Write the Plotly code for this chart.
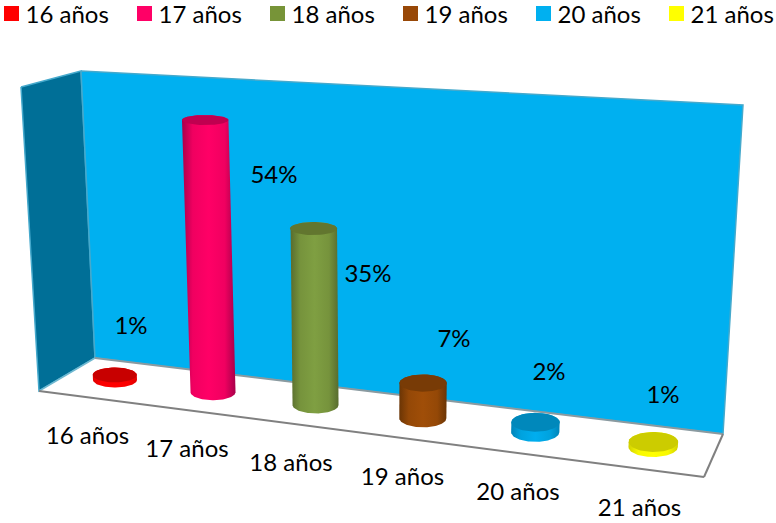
import numpy as np
import plotly.graph_objects as go

# ---- data ----
categories = ["16 años", "17 años", "18 años", "19 años", "20 años", "21 años"]
values = [1, 54, 35, 7, 2, 1]
body_mid = ["#ff0000", "#ff0066", "#7f9f42", "#a04e08", "#00aeef", "#ffff00"]
body_near = ["#fa0000", "#f00060", "#76933c", "#944807", "#00a2de", "#f8f800"]
body_edge = ["#e00000", "#a8004a", "#586c2e", "#6b3505", "#0084b8", "#d0d000"]
cap_col = ["#c80000", "#c00050", "#62762f", "#783b06", "#0088bb", "#cccc00"]
legend_col = ["#ff0000", "#ff0066", "#779438", "#984807", "#00b0f0", "#ffff00"]

# ---- projection of the 3-D frame (layout constants, pixels of the picture) ----
W, H = 776, 523
wall_back = [(81, 71), (743, 105), (723, 434), (95, 358)]
wall_side = [(21, 87), (81, 71), (95, 358), (39, 391)]
floor = [(39, 391), (95, 358), (723, 434), (704, 477)]
PX_PER_PCT = 5.04
FONT = "Lato"
FS = 24
TEXT_DY = 2


def base_x(i):
    return 115 + 95.9 * i / (1 - 0.0218 * i)


def base_y(x):
    return 380 + 67 / 538 * (x - 115)


def ellipse(cx, cy, rx, ry, a0=0.0, a1=2 * np.pi, n=60):
    t = np.linspace(a0, a1, n)
    return cx + rx * np.cos(t), cy + ry * np.sin(t)


fig = go.Figure()


def poly(pts, fillcolor, line_color=None, line_width=0):
    xs = [p[0] for p in pts] + [pts[0][0]]
    ys = [p[1] for p in pts] + [pts[0][1]]
    fig.add_trace(go.Scatter(x=xs, y=ys, mode="lines", fill="toself", fillcolor=fillcolor,
                             line=dict(color=line_color or fillcolor, width=line_width),
                             hoverinfo="skip", showlegend=False))


def seg(a, b, color, width):
    fig.add_trace(go.Scatter(x=[a[0], b[0]], y=[a[1], b[1]], mode="lines",
                             line=dict(color=color, width=width), hoverinfo="skip", showlegend=False))


poly(wall_side, "#006f97", "#45a9cc", 1.5)
poly(wall_back, "#00b0f0", "#45a9cc", 1.5)
poly(floor, "#ffffff")
seg(floor[1], floor[0], "#6fb8d0", 1.5)
seg(floor[1], floor[2], "#8a9aa0", 2)
seg(floor[0], floor[3], "#808080", 2)
seg(floor[3], floor[2], "#808080", 2)

for i, (cat, v) in enumerate(zip(categories, values)):
    bx = base_x(i)
    by = base_y(bx)
    rx = 22 / (1 - 0.0218 * i)
    ry = 7.5 + 0.5 * i
    h = v * PX_PER_PCT
    tx = bx + (bx - 382) * 0.00017 * h
    ty = by - h
    trx = rx * (1 + 0.00012 * h)
    tyr = ry - 0.011 * h
    xb, yb = ellipse(bx, by, rx, ry, 0, np.pi)            # lower front rim, right to left
    xt, yt = ellipse(tx, ty, trx, tyr, np.pi, 2 * np.pi)  # upper rim, left to right
    fig.add_trace(go.Scatter(
        x=np.r_[xb, xt, xb[0]], y=np.r_[yb, yt, yb[0]], mode="lines", fill="toself",
        line=dict(width=0, color=body_mid[i]),
        fillgradient=dict(type="horizontal",
                          colorscale=[[0, body_edge[i]], [0.2, body_near[i]], [0.5, body_mid[i]],
                                      [0.8, body_near[i]], [1, body_edge[i]]]),
        name=cat, hoverinfo="skip", showlegend=False))
    xc, yc = ellipse(tx, ty, trx, tyr)
    fig.add_trace(go.Scatter(x=xc, y=yc, mode="lines", fill="toself", fillcolor=cap_col[i],
                             line=dict(width=0, color=cap_col[i]), hoverinfo="skip", showlegend=False))

# data labels (hand placed in the original)
value_label_x = [131, 274, 368, 454, 549, 663]
value_label_y = [326, 175, 274, 339, 372, 395]
fig.add_trace(go.Scatter(x=value_label_x, y=[y + TEXT_DY for y in value_label_y], mode="text",
                         text=[f"{v}%" for v in values], textposition="middle center",
                         textfont=dict(family=FONT, size=FS, color="#000000"), cliponaxis=False,
                         hoverinfo="skip", showlegend=False))

# category labels
cat_label_x = [87.5, 187, 291, 402.5, 518, 639.5]
cat_label_y = [436, 449, 463, 477, 492, 508]
fig.add_trace(go.Scatter(x=cat_label_x, y=[y + TEXT_DY for y in cat_label_y], mode="text", text=categories,
                         textposition="middle center",
                         textfont=dict(family=FONT, size=FS, color="#000000"), cliponaxis=False,
                         hoverinfo="skip", showlegend=False))

# legend row
leg_x = [11.5 + 133 * i for i in range(len(categories))]
leg_y = [13.5] * len(categories)
fig.add_trace(go.Scatter(x=leg_x, y=leg_y, mode="markers",
                         marker=dict(symbol="square", size=15, color=legend_col, line=dict(width=0)),
                         cliponaxis=False, hoverinfo="skip", showlegend=False))
fig.add_trace(go.Scatter(x=[x + 14 for x in leg_x], y=[y + TEXT_DY + 1 for y in leg_y], mode="text", text=categories,
                         textposition="middle right",
                         textfont=dict(family=FONT, size=FS, color="#000000"), cliponaxis=False,
                         hoverinfo="skip", showlegend=False))

fig.update_layout(width=W, height=H, margin=dict(l=0, r=0, t=0, b=0),
                  paper_bgcolor="#ffffff", plot_bgcolor="#ffffff",
                  xaxis=dict(range=[0, W], visible=False, fixedrange=True),
                  yaxis=dict(range=[H, 0], visible=False, fixedrange=True))
fig.write_html("out.html", config={"displayModeBar": False},
               post_script="document.body.style.margin='0';")
